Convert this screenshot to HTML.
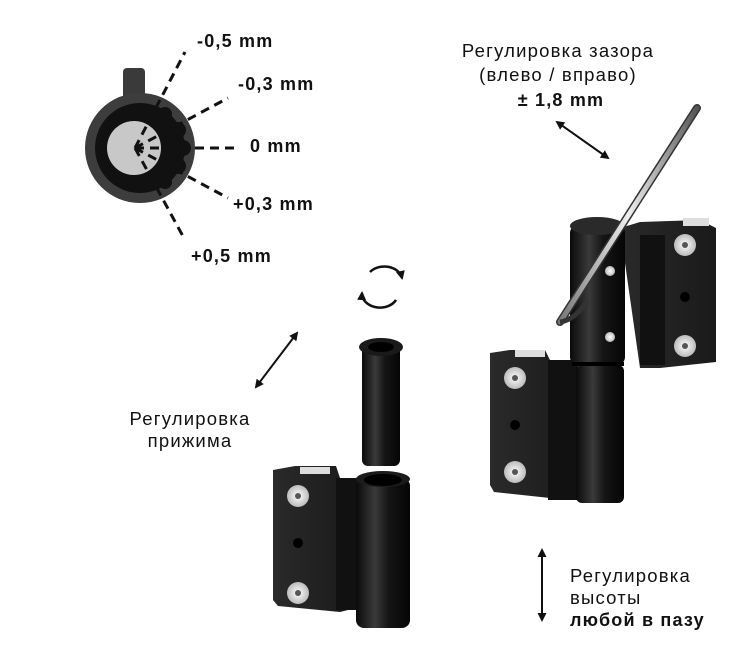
<!DOCTYPE html>
<html><head><meta charset="utf-8"><style>
html,body{margin:0;padding:0;background:#fff;}
svg{display:block;}
text{font-family:"Liberation Sans",sans-serif;fill:#111;}
.t{font-size:18.5px;letter-spacing:1.2px;}
.b{font-size:18px;font-weight:bold;letter-spacing:1.2px;}
</style></head><body>
<svg width="753" height="671" viewBox="0 0 753 671" xmlns="http://www.w3.org/2000/svg">
<defs>
<linearGradient id="cyl" x1="0" x2="1">
<stop offset="0" stop-color="#0a0a0a"/><stop offset="0.35" stop-color="#3a3a3a"/><stop offset="0.6" stop-color="#151515"/><stop offset="1" stop-color="#050505"/>
</linearGradient>
<linearGradient id="plate" x1="0" x2="1">
<stop offset="0" stop-color="#2a2a2a"/><stop offset="1" stop-color="#1a1a1a"/>
</linearGradient>
<radialGradient id="screw"><stop offset="0" stop-color="#fff"/><stop offset="1" stop-color="#bbb"/></radialGradient>
<linearGradient id="rod" x1="0" x2="1" y1="0" y2="0"><stop offset="0" stop-color="#777"/><stop offset="0.5" stop-color="#eee"/><stop offset="1" stop-color="#555"/></linearGradient>
<marker id="ah" markerWidth="9" markerHeight="9" refX="7" refY="4.5" orient="auto-start-reverse" markerUnits="userSpaceOnUse"><path d="M0,0 L9,4.5 L0,9 z" fill="#111"/></marker>
</defs>

<!-- dial -->
<rect x="123" y="68" width="22" height="35" rx="4" fill="#3a3a3a"/>
<circle cx="140" cy="148" r="55" fill="#3d3d3d"/>
<circle cx="140" cy="148" r="45" fill="#111"/>
<g fill="#111">
<circle cx="178" cy="130" r="8"/><circle cx="183" cy="148" r="8"/><circle cx="178" cy="166" r="8"/>
<circle cx="165" cy="114" r="7"/><circle cx="165" cy="182" r="7"/>
</g>
<circle cx="134" cy="148" r="27" fill="#c8c8c8"/>
<g stroke="#111" stroke-width="3" stroke-dasharray="9,6" fill="none">
<line x1="135" y1="148" x2="185" y2="52"/>
<line x1="135" y1="148" x2="228" y2="98"/>
<line x1="135" y1="148" x2="240" y2="148"/>
<line x1="135" y1="148" x2="228" y2="198"/>
<line x1="135" y1="148" x2="185" y2="240"/>
</g>
<g class="b">
<text class="b" x="197" y="47">-0,5 mm</text>
<text class="b" x="238" y="90">-0,3 mm</text>
<text class="b" x="250" y="152">0 mm</text>
<text class="b" x="233" y="210">+0,3 mm</text>
<text class="b" x="191" y="262">+0,5 mm</text>
</g>

<!-- top right text -->
<text class="t" x="558" y="57" text-anchor="middle">Регулировка зазора</text>
<text class="t" x="558" y="81" text-anchor="middle">(влево / вправо)</text>
<text class="b" x="561" y="106" font-size="19" text-anchor="middle">± 1,8 mm</text>
<line x1="557" y1="122" x2="608" y2="158" stroke="#111" stroke-width="2" marker-start="url(#ah)" marker-end="url(#ah)"/>

<!-- rotation arrows -->
<path d="M370,272 A18,14 0 0 1 402,278" stroke="#111" stroke-width="2.5" fill="none" marker-end="url(#ah)"/>
<path d="M396,300 A18,14 0 0 1 362,293" stroke="#111" stroke-width="2.5" fill="none" marker-end="url(#ah)"/>

<!-- left arrow & text -->
<line x1="297" y1="333" x2="256" y2="387" stroke="#111" stroke-width="2" marker-start="url(#ah)" marker-end="url(#ah)"/>
<text class="t" x="190" y="425" text-anchor="middle">Регулировка</text>
<text class="t" x="190" y="447" text-anchor="middle">прижима</text>

<!-- bottom right -->
<line x1="542" y1="550" x2="542" y2="620" stroke="#111" stroke-width="2" marker-start="url(#ah)" marker-end="url(#ah)"/>
<text class="t" x="570" y="582">Регулировка</text>
<text class="t" x="570" y="604">высоты</text>
<text class="b" x="570" y="626">любой в пазу</text>

<!-- left hinge: sleeve -->
<rect x="362" y="346" width="38" height="120" rx="6" fill="url(#cyl)"/>
<ellipse cx="381" cy="347" rx="22" ry="9" fill="#1a1a1a"/>
<ellipse cx="381" cy="347" rx="13" ry="5" fill="#000"/>
<!-- left hinge plate -->
<path d="M273,470 L295,466 L336,466 L340,478 L356,478 L356,608 L340,612 L278,606 L273,600 Z" fill="url(#plate)"/>
<rect x="300" y="467" width="30" height="7" fill="#ddd"/>
<rect x="336" y="478" width="22" height="132" fill="#111"/>
<rect x="356" y="478" width="54" height="150" rx="8" fill="url(#cyl)"/>
<ellipse cx="383" cy="479" rx="27" ry="8" fill="#1c1c1c"/>
<ellipse cx="383" cy="480" rx="19" ry="6" fill="#000"/>
<circle cx="298" cy="496" r="11" fill="url(#screw)"/><circle cx="298" cy="496" r="3" fill="#555"/>
<circle cx="298" cy="543" r="5" fill="#000"/>
<circle cx="298" cy="593" r="11" fill="url(#screw)"/><circle cx="298" cy="593" r="3" fill="#555"/>

<!-- right hinge lower leaf -->
<path d="M490,353 L510,350 L545,350 L550,360 L578,360 L578,500 L550,498 L494,492 L490,485 Z" fill="url(#plate)"/>
<rect x="515" y="350" width="30" height="7" fill="#ddd"/>
<rect x="548" y="360" width="30" height="140" fill="#111"/>
<rect x="576" y="365" width="48" height="138" rx="6" fill="url(#cyl)"/>
<circle cx="515" cy="378" r="11" fill="url(#screw)"/><circle cx="515" cy="378" r="3" fill="#555"/>
<circle cx="515" cy="425" r="5" fill="#000"/>
<circle cx="515" cy="472" r="11" fill="url(#screw)"/><circle cx="515" cy="472" r="3" fill="#555"/>
<!-- upper knuckle & leaf -->
<path d="M620,228 L640,222 L700,220 L716,228 L716,362 L660,368 L640,368 Z" fill="url(#plate)"/>
<rect x="683" y="218" width="26" height="8" fill="#ddd"/>
<rect x="640" y="235" width="25" height="130" fill="#111"/>
<rect x="570" y="225" width="55" height="140" rx="8" fill="url(#cyl)"/>
<ellipse cx="597" cy="226" rx="27" ry="9" fill="#2a2a2a"/>
<rect x="572" y="362" width="52" height="4" fill="#000"/>
<circle cx="685" cy="245" r="11" fill="url(#screw)"/><circle cx="685" cy="245" r="3" fill="#555"/>
<circle cx="685" cy="297" r="5" fill="#000"/>
<circle cx="685" cy="346" r="11" fill="url(#screw)"/><circle cx="685" cy="346" r="3" fill="#555"/>
<circle cx="610" cy="271" r="5" fill="url(#screw)"/>
<circle cx="610" cy="337" r="5" fill="url(#screw)"/>
<!-- rod -->
<line x1="697" y1="108" x2="560" y2="322" stroke="#333" stroke-width="8" stroke-linecap="round"/>
<line x1="697" y1="108" x2="560" y2="322" stroke="url(#rod)" stroke-width="5" stroke-linecap="round"/>
<path d="M560,322 Q575,320 588,300" stroke="#333" stroke-width="5" fill="none"/>
</svg>
</body></html>
